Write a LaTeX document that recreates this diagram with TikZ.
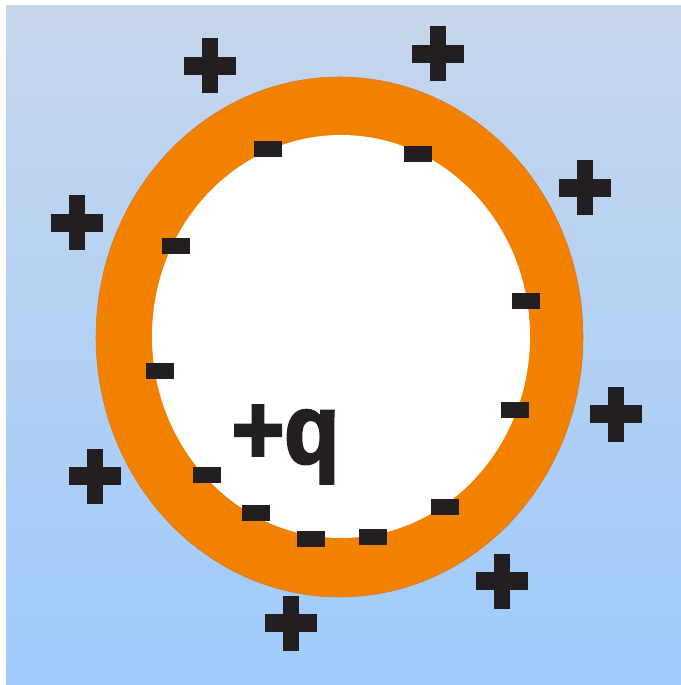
\documentclass[tikz,border=0pt]{standalone}
\usepackage{fontspec}
\newfontfamily\labelfont[BoldFont={Liberation Sans Bold},BoldFeatures={FakeBold=3}]{Liberation Sans}
\definecolor{SkyTop}{HTML}{C6D6EB}
\definecolor{SkyBottom}{HTML}{9ECBFC}
\definecolor{Shell}{HTML}{F28100}
\definecolor{ShellEdge}{HTML}{D07A30}
\definecolor{ChargeDark}{HTML}{231F20}
\tikzset{
  shell/.style={fill=Shell,draw=ShellEdge,line width=0.3pt},
  cavity/.style={fill=white},
  charge/.style={fill=ChargeDark},
  qlabel/.style={font=\labelfont\fontsize{55.8}{60}\selectfont\bfseries,text=ChargeDark,inner sep=0pt,anchor=base,xscale=0.92},
}

\begin{document}
\begin{tikzpicture}[x=0.02cm,y=-0.02cm]
\useasboundingbox (0,0) rectangle (680,685);

% Background
\fill[white] (0,0) rectangle (680,685);
\fill[SkyBottom] (6,6) rectangle (700,705);
\shade[top color=SkyTop,bottom color=SkyBottom] (6,6) rectangle (700,705);

% Conducting shell
\fill[shell] (339.5,337) ellipse [x radius=243.5,y radius=260];
\fill[cavity] (341,336.5) ellipse [x radius=189,y radius=201.5];

% Induced charge on the inner surface
\foreach \x/\y in {268/149,418/154,176/246,526/301,160/371,515/410,
                   207/475,256/513,311/539,373/537,445/507}{
  \fill[charge] (\x-14,\y-8) rectangle (\x+14,\y+8);
}

% Charge on the outer surface
\foreach \x/\y in {210/66,438/54,585/188,77/223,616/414,95/476,502/581,291/623}{
  \fill[charge] (\x-26,\y-9) rectangle (\x+26,\y+9);
  \fill[charge] (\x-8,\y-27.5) rectangle (\x+8,\y+27.5);
}

% Point charge
\node[qlabel] (q) at (285.5,463) {+q};

\end{tikzpicture}
\end{document}
